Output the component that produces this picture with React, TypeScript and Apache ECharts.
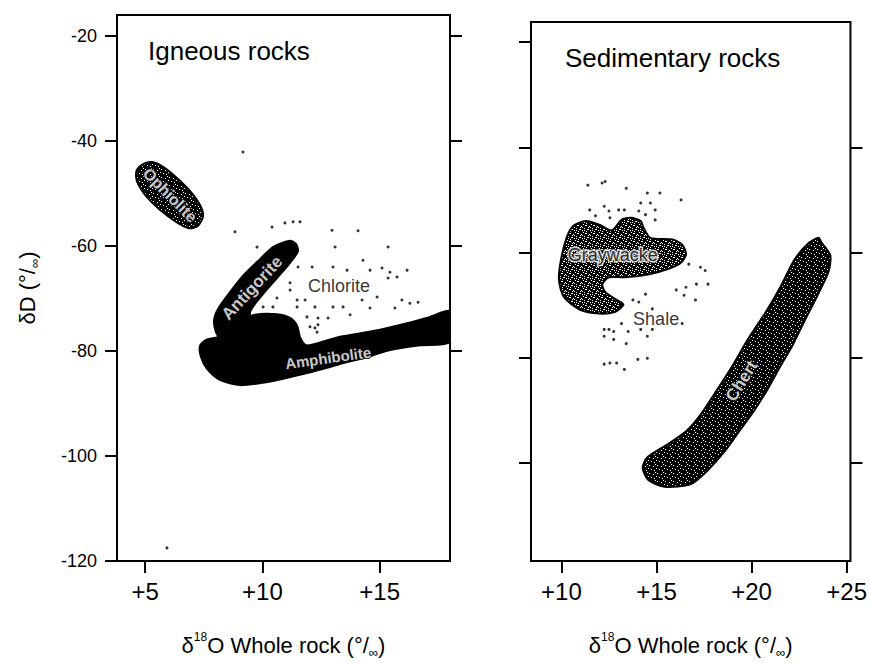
import React, { useEffect, useRef } from 'react';
import * as echarts from 'echarts';

const FONT = '"Liberation Sans", Arial, Helvetica, sans-serif';

// ---- axis ticks ----
const leftXTicks = [5, 10, 15];
const rightXTicks = [10, 15, 20, 25];
const leftYTicks = [-120, -100, -80, -60, -40, -20];
const leftYRightTicks = [-80, -60, -40, -20];
const rightYTicks = [-100, -80, -60, -40, -20];
const rightYRightTicks = [-100, -80, -60, -40];

// ---- Igneous rocks (δ18O, δD) ----
const ophiolite = [
  [4.65, -45.5], [4.91, -44.4], [5.29, -44.0], [5.72, -44.8], [6.27, -46.7], [6.91, -49.5],
  [7.34, -52.2], [7.47, -54.3], [7.25, -56.2], [6.87, -56.6], [6.32, -55.4], [5.63, -53.1],
  [5.04, -50.5], [4.70, -48.2], [4.61, -46.7],
];
const amphibolite = [
  [7.34, -79.0], [7.60, -77.9], [8.19, -77.3], [9.05, -76.0], [9.34, -74.1], [9.68, -73.1],
  [10.62, -73.0], [11.18, -73.7], [11.48, -75.2], [11.60, -77.3], [11.86, -78.9], [12.37, -78.5],
  [13.31, -77.3], [14.72, -76.2], [16.17, -74.7], [17.15, -73.5], [18.0, -72.4], [18.0, -78.3],
  [16.72, -78.9], [15.44, -79.8], [14.72, -80.8], [13.31, -82.5], [11.90, -84.2], [10.45, -85.7],
  [9.05, -86.5], [8.19, -85.5], [7.64, -83.4], [7.38, -81.1],
];
const antigorite = [
  [11.43, -59.6], [11.18, -59.0], [10.45, -60.2], [9.90, -62.5], [9.17, -65.7], [8.62, -68.8],
  [8.11, -72.0], [7.94, -74.1], [8.02, -76.4], [8.28, -78.1], [8.75, -79.2], [9.26, -79.0],
  [9.56, -77.5], [9.60, -75.0], [9.47, -72.6], [10.03, -69.1], [10.62, -66.1], [11.18, -63.2],
  [11.52, -61.0],
];
const chloriteDots = [
  [8.83, -57.3], [10.41, -56.4], [10.96, -55.6], [11.31, -55.4], [11.60, -55.4], [12.97, -57.0],
  [14.08, -57.1], [9.77, -60.2], [13.10, -60.2], [15.36, -60.2], [11.52, -64.0], [12.12, -64.0],
  [13.01, -64.0], [13.61, -64.6], [14.29, -62.7], [14.59, -64.6], [15.10, -64.2], [15.44, -65.0],
  [16.17, -64.6], [15.36, -66.1], [15.74, -65.9], [11.18, -67.0], [11.18, -68.4], [10.62, -69.9],
  [11.48, -70.3], [11.82, -70.3], [10.03, -71.6], [10.45, -71.6], [11.48, -71.6], [12.24, -71.6],
  [13.01, -71.6], [13.44, -71.6], [14.25, -70.3], [14.59, -71.8], [14.89, -69.7], [15.65, -71.8],
  [15.95, -70.3], [16.29, -70.9], [16.64, -70.7], [11.90, -73.5], [12.37, -73.7], [12.80, -73.7],
  [13.74, -73.1], [12.03, -75.4], [12.24, -75.6], [12.37, -75.0], [12.33, -76.4], [9.17, -42.1],
  [5.93, -117.5],
];
const igneousLabels = ['Ophiolite', 'Antigorite', 'Amphibolite', 'Chlorite'];
const igneousLabelPos = [[6.06, -50.3], [9.56, -68.0], [12.8, -81.3], [13.27, -67.6]];

// ---- Sedimentary rocks ----
const graywacke = [
  [10.63, -54.9], [11.28, -54.0], [11.99, -54.7], [12.65, -55.8], [13.16, -53.8], [13.66, -53.4],
  [14.17, -54.0], [14.32, -55.3], [14.68, -57.2], [15.84, -57.5], [16.35, -58.5], [16.55, -60.4],
  [16.19, -62.2], [14.68, -64.1], [13.31, -64.7], [12.50, -64.7], [12.15, -66.0], [12.30, -67.5],
  [12.90, -69.0], [13.26, -69.9], [12.80, -71.3], [11.99, -71.6], [10.98, -70.9], [10.12, -68.4],
  [9.87, -65.2], [9.97, -61.5], [10.27, -57.2],
];
const chert = [
  [23.53, -57.2], [23.68, -58.1], [24.14, -60.5], [24.04, -63.7], [23.43, -68.4], [22.77, -73.1],
  [22.17, -77.5], [21.51, -81.6], [20.85, -85.9], [20.14, -90.0], [19.38, -93.8], [18.62, -97.6],
  [17.71, -101.3], [16.80, -104.0], [15.43, -104.5], [14.57, -103.2], [14.27, -100.9], [14.52, -98.9],
  [15.69, -96.2], [16.60, -93.8], [17.36, -90.6], [18.22, -85.9], [18.98, -81.6], [19.84, -76.3],
  [20.75, -71.3], [21.51, -66.6], [22.27, -61.3], [23.03, -58.1],
];
const shaleDots = [
  [11.39, -47.2], [12.14, -46.8], [12.30, -46.5], [13.41, -47.8], [14.52, -48.7], [15.18, -48.7],
  [16.29, -50.0], [11.49, -51.9], [12.25, -51.2], [12.50, -52.1], [13.01, -51.9], [13.31, -51.9],
  [14.17, -50.6], [14.68, -50.6], [14.07, -52.1], [14.42, -52.8], [14.93, -51.9], [14.93, -53.8],
  [12.55, -53.4], [11.79, -53.0], [16.70, -62.2], [17.31, -62.8], [17.56, -63.4], [16.55, -66.6],
  [17.10, -66.0], [17.71, -66.0], [16.45, -68.1], [17.05, -69.0], [14.42, -67.9], [13.76, -69.0],
  [14.07, -69.4], [14.78, -70.7], [16.04, -67.1], [13.16, -73.5], [12.25, -74.6], [12.50, -74.6],
  [12.75, -75.0], [13.51, -75.0], [14.17, -74.6], [14.78, -74.6], [12.25, -75.9], [12.75, -76.5],
  [14.52, -75.9], [13.41, -77.3], [12.25, -81.2], [12.55, -81.0], [12.90, -81.0], [13.31, -82.2],
  [14.02, -80.3], [14.52, -80.1], [16.35, -73.5],
];
const sedimentaryLabels = ['Graywacke', 'Shale', 'Chert'];
const sedimentaryLabelPos = [[12.7, -60.5], [14.98, -72.6], [19.48, -84.4]];

const panelTitles = ['Igneous rocks', 'Sedimentary rocks'];

// speckle textures (white pixels on black, fixed positions)
const speckleSparse = [[1, 1], [5, 2], [3, 5], [6, 6], [0, 4], [7, 0]];
const speckleDense = [[1, 1], [2, 1], [5, 2], [3, 5], [4, 5], [6, 6], [0, 4], [7, 0], [2, 7], [6, 3], [4, 3], [0, 6]];

function makePattern(pixels: number[][], fallback: string) {
  if (typeof document === 'undefined') return fallback;
  const c = document.createElement('canvas');
  c.width = 8;
  c.height = 8;
  const ctx = c.getContext('2d');
  if (!ctx) return fallback;
  ctx.fillStyle = '#000';
  ctx.fillRect(0, 0, 8, 8);
  ctx.fillStyle = '#fff';
  pixels.forEach(([x, y]) => ctx.fillRect(x, y, 1, 1));
  return { image: c, repeat: 'repeat', imageWidth: 8, imageHeight: 8 } as any;
}

function polygonSeries(points: number[][], xi: number, yi: number, fill: any, stroke: string) {
  return {
    type: 'custom',
    xAxisIndex: xi,
    yAxisIndex: yi,
    clip: true,
    silent: true,
    data: [points[0]],
    renderItem: (_p: any, api: any) => ({
      type: 'polygon',
      shape: { points: points.map((p) => api.coord(p)), smooth: 0.25 },
      style: { fill, stroke, lineWidth: 2 },
    }),
  };
}

const whiteLabel = { color: '#fff', textBorderColor: '#000', textBorderWidth: 2, fontWeight: 'bold' as const };
const blackLabel = { color: '#000' };

const richAxisName = {
  d: { fontSize: 22, fontFamily: FONT, color: '#000', lineHeight: 28, verticalAlign: 'middle' },
  sup: { fontSize: 12, fontFamily: FONT, color: '#000', lineHeight: 28, verticalAlign: 'top' },
  sub: { fontSize: 13, fontFamily: FONT, color: '#000', lineHeight: 28, verticalAlign: 'bottom' },
};
const xName = '{d|δ}{sup|18}{d|O Whole rock (°/}{sub|∞}{d|)}';
const yName = '{d|δD (°/}{sub|∞}{d|)}';

function xAxisOpt(grid: number, min: number, max: number, ticks: number[]) {
  return {
    type: 'value', gridIndex: grid, min, max, position: 'bottom',
    axisLine: { show: false },
    splitLine: { show: false },
    axisTick: { show: true, length: 12, customValues: ticks, lineStyle: { color: '#000', width: 2 } },
    axisLabel: { show: true, customValues: ticks, formatter: (v: number) => '+' + v, fontSize: 24, fontFamily: FONT, color: '#000', margin: 18 },
    name: xName, nameLocation: 'middle', nameGap: 70,
    nameTextStyle: { rich: richAxisName },
  };
}

function yAxisOpt(grid: number, min: number, max: number, ticks: number[], pos: string, labels: boolean, name?: string) {
  return {
    type: 'value', gridIndex: grid, min, max, position: pos,
    axisLine: { show: false },
    splitLine: { show: false },
    axisTick: { show: true, length: 12, customValues: ticks, lineStyle: { color: '#000', width: 2 } },
    axisLabel: { show: labels, customValues: ticks, fontSize: 18, fontFamily: FONT, color: '#000', margin: 20 },
    name: name || '', nameLocation: 'middle', nameGap: 76, nameRotate: 90,
    nameTextStyle: { rich: richAxisName },
  };
}

function labelSeries(names: string[], pos: number[][], xi: number, yi: number, styles: any[]) {
  return {
    type: 'scatter', xAxisIndex: xi, yAxisIndex: yi, symbolSize: 0, silent: true,
    data: names.map((n, i) => ({ name: n, value: pos[i], label: styles[i] })),
    label: { show: true, position: 'inside', formatter: '{b}', fontFamily: FONT, fontSize: 17 },
  };
}

export default function App() {
  const ref = useRef<HTMLDivElement>(null);
  useEffect(() => {
    if (!ref.current) return;
    const chart = echarts.init(ref.current, null, { renderer: 'svg' });
    const sparse = makePattern(speckleSparse, '#222');
    const dense = makePattern(speckleDense, '#333');
    chart.setOption({
      animation: false,
      backgroundColor: '#fff',
      grid: [
        { left: 117, top: 15, width: 333, height: 546, show: true, borderColor: '#000', borderWidth: 2, backgroundColor: 'transparent' },
        { left: 531, top: 22, width: 332, height: 545, show: true, borderColor: '#000', borderWidth: 2, backgroundColor: 'transparent' },
      ],
      xAxis: [xAxisOpt(0, 3.8, 18, leftXTicks), xAxisOpt(1, 8.4, 25.2, rightXTicks)],
      yAxis: [
        yAxisOpt(0, -120, -16, leftYTicks, 'left', true, yName),
        yAxisOpt(0, -120, -16, leftYRightTicks, 'right', false),
        yAxisOpt(1, -118.6, -16.2, rightYTicks, 'left', false),
        yAxisOpt(1, -118.6, -16.2, rightYRightTicks, 'right', false),
      ],
      graphic: [
        { type: 'text', x: 148, y: 51, style: { text: panelTitles[0], font: `26px ${FONT}`, fill: '#000', align: 'left', verticalAlign: 'middle' } },
        { type: 'text', x: 565, y: 58, style: { text: panelTitles[1], font: `26px ${FONT}`, fill: '#000', align: 'left', verticalAlign: 'middle' } },
      ],
      series: [
        polygonSeries(ophiolite, 0, 0, sparse, '#000'),
        polygonSeries(amphibolite, 0, 0, '#000', '#000'),
        polygonSeries(antigorite, 0, 0, '#000', '#000'),
        { type: 'scatter', xAxisIndex: 0, yAxisIndex: 0, symbolSize: 3, silent: true, itemStyle: { color: '#000' }, data: chloriteDots },
        labelSeries(igneousLabels, igneousLabelPos, 0, 0, [
          { ...whiteLabel, rotate: -45, fontSize: 16 },
          { ...whiteLabel, rotate: 47, fontSize: 17 },
          { ...whiteLabel, rotate: 8, fontSize: 15 },
          { ...blackLabel, fontSize: 18 },
        ]),
        polygonSeries(graywacke, 1, 2, dense, '#000'),
        polygonSeries(chert, 1, 2, sparse, '#000'),
        { type: 'scatter', xAxisIndex: 1, yAxisIndex: 2, symbolSize: 3, silent: true, itemStyle: { color: '#000' }, data: shaleDots },
        labelSeries(sedimentaryLabels, sedimentaryLabelPos, 1, 2, [
          { color: '#000', textBorderColor: '#fff', textBorderWidth: 3, fontSize: 18 },
          { ...blackLabel, fontSize: 18 },
          { ...whiteLabel, rotate: 58, fontSize: 17 },
        ]),
      ],
    });
    return () => chart.dispose();
  }, []);
  return <div ref={ref} style={{ position: 'fixed', left: 0, top: 0, width: 870, height: 664 }} />;
}
